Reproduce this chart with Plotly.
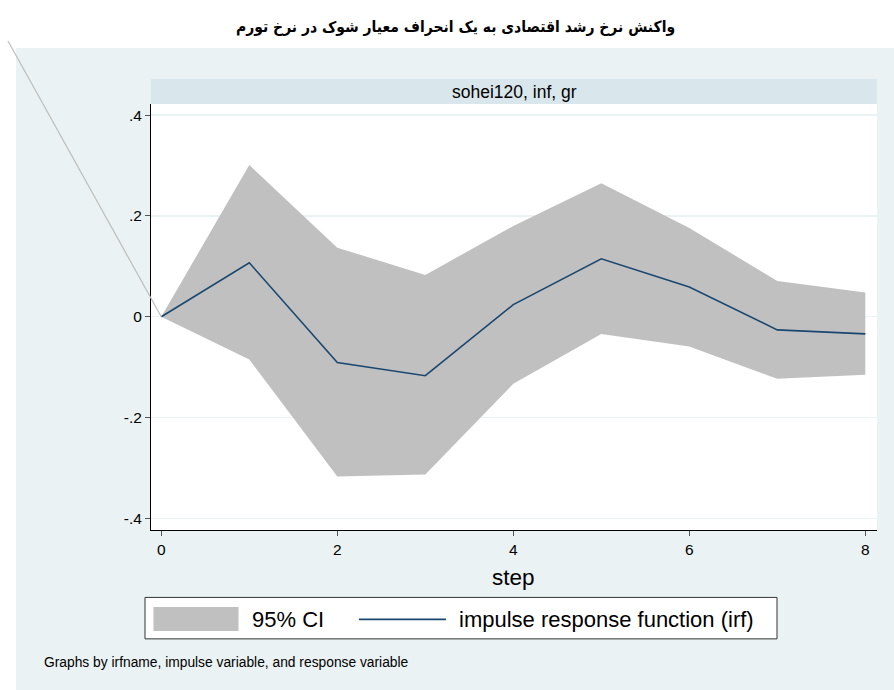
import plotly.graph_objects as go

# ---- data ----
steps = [0, 1, 2, 3, 4, 5, 6, 7, 8]
irf = [0, 0.107, -0.091, -0.117, 0.024, 0.115, 0.059, -0.026, -0.034]
ci_upper = [0, 0.301, 0.137, 0.083, 0.180, 0.265, 0.176, 0.071, 0.048]
ci_lower = [0, -0.085, -0.317, -0.313, -0.133, -0.034, -0.059, -0.123, -0.115]
y_tick_vals = [-0.4, -0.2, 0, 0.2, 0.4]
y_tick_text = ["-.4", "-.2", "0", ".2", ".4"]
x_tick_vals = [0, 2, 4, 6, 8]
x_tick_text = ["0", "2", "4", "6", "8"]

title_text = "واکنش نرخ رشد اقتصادی به یک انحراف معیار شوک در نرخ تورم"
strip_text = "sohei120, inf, gr"
note_text = "Graphs by irfname, impulse variable, and response variable"
legend_labels = ["95% CI", "impulse response function (irf)"]

# ---- layout geometry (pixels) ----
W, H = 894, 690
L, R, T, B = 151, 877, 104, 530.5
XR = [-0.117, 8.133]
YR = [-0.423, 0.422]

PANEL = "#EAF2F3"
STRIP = "#D9E6EB"
BAND = "#C0C0C0"
NAVY = "#1A476F"
FONT = "Liberation Sans, Arial, sans-serif"


def px(x):
    return (x - L) / (R - L)


def py(y):
    return (B - y) / (B - T)


fig = go.Figure()
fig.add_trace(go.Scatter(x=steps, y=ci_lower, mode="lines", line=dict(width=0, color=BAND),
                         showlegend=False, hoverinfo="skip"))
fig.add_trace(go.Scatter(x=steps, y=ci_upper, mode="lines", line=dict(width=0, color=BAND),
                         fill="tonexty", fillcolor=BAND, name=legend_labels[0], showlegend=False))
fig.add_trace(go.Scatter(x=steps, y=irf, mode="lines", line=dict(width=1.6, color=NAVY),
                         name=legend_labels[1], showlegend=False))

shapes = []
# outer panel
shapes.append(dict(type="rect", xref="paper", yref="paper", x0=px(16), x1=px(W + 10), y0=py(48), y1=py(H + 10),
                   fillcolor=PANEL, line=dict(width=0), layer="below"))
# white plot region
shapes.append(dict(type="rect", xref="paper", yref="paper", x0=0, x1=1, y0=0, y1=1,
                   fillcolor="white", line=dict(width=0), layer="below"))
# strip
shapes.append(dict(type="rect", xref="paper", yref="paper", x0=px(L), x1=px(R), y0=py(T), y1=py(79),
                   fillcolor=STRIP, line=dict(width=0), layer="below"))
# diagonal line to origin
x0p = (0 - XR[0]) / (XR[1] - XR[0])
y0p = (0 - YR[0]) / (YR[1] - YR[0])
shapes.append(dict(type="line", xref="paper", yref="paper", x0=px(8), y0=py(41), x1=x0p, y1=y0p,
                   line=dict(color="#BDBDBD", width=1.2), layer="above"))
# legend box
shapes.append(dict(type="rect", xref="paper", yref="paper", x0=px(145), x1=px(777), y0=py(598), y1=py(639.5),
                   fillcolor="white", line=dict(color="#333333", width=1), layer="above"))
shapes.append(dict(type="rect", xref="paper", yref="paper", x0=px(153.5), x1=px(238.5), y0=py(607.5), y1=py(631.5),
                   fillcolor=BAND, line=dict(width=0), layer="above"))
shapes.append(dict(type="line", xref="paper", yref="paper", x0=px(359), x1=px(446), y0=py(620), y1=py(620),
                   line=dict(color=NAVY, width=1.6), layer="above"))

annotations = [
    dict(text="<b>" + title_text + "</b>", xref="paper", yref="paper", x=px(455), y=py(27),
         showarrow=False, font=dict(family="DejaVu Sans Condensed, DejaVu Sans, sans-serif", size=15.5,
                                    color="black"),
         xanchor="center", yanchor="middle"),
    dict(text=strip_text, xref="paper", yref="paper", x=px((L + R) / 2), y=py(91.5),
         showarrow=False, font=dict(family=FONT, size=17.5, color="black"), xanchor="center", yanchor="middle"),
    dict(text=legend_labels[0], xref="paper", yref="paper", x=px(250), y=py(620),
         showarrow=False, font=dict(family=FONT, size=22, color="black"), xanchor="left", yanchor="middle"),
    dict(text=legend_labels[1], xref="paper", yref="paper", x=px(457), y=py(620),
         showarrow=False, font=dict(family=FONT, size=22, color="black"), xanchor="left", yanchor="middle"),
    dict(text=note_text, xref="paper", yref="paper", x=px(42), y=py(663),
         showarrow=False, font=dict(family=FONT, size=13.8, color="black"), xanchor="left", yanchor="middle"),
    dict(text="step", xref="paper", yref="paper", x=px(513), y=py(578),
         showarrow=False, font=dict(family=FONT, size=22.5, color="black"), xanchor="center", yanchor="middle"),
]

fig.update_layout(
    width=W, height=H,
    margin=dict(l=L, r=W - R, t=T, b=H - B, pad=0),
    paper_bgcolor="white",
    plot_bgcolor="white",
    shapes=shapes,
    annotations=annotations,
    showlegend=False,
    hovermode=False,
    font=dict(family=FONT, color="black"),
)
fig.update_xaxes(range=XR, tickvals=x_tick_vals, ticktext=x_tick_text, showgrid=False, zeroline=False,
                 showline=True, linecolor="black", linewidth=1, ticks="outside", ticklen=5,
                 tickcolor="#555555", tickfont=dict(size=15.5, family=FONT, color="black"))
fig.update_yaxes(range=YR, tickvals=y_tick_vals, ticktext=y_tick_text, showgrid=True, gridcolor=PANEL,
                 gridwidth=1.2, zeroline=False, showline=True, linecolor="black", linewidth=1,
                 ticks="outside", ticklen=5, tickcolor="#555555",
                 tickfont=dict(size=15.5, family=FONT, color="black"))

fig.write_html("out.html", config={"displayModeBar": False, "staticPlot": True},
               post_script="document.body.style.margin='0';document.body.style.overflow='hidden';")
